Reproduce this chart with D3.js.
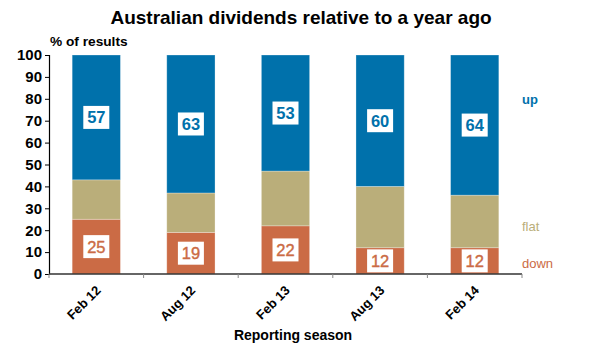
<!DOCTYPE html>
<html>
<head>
<meta charset="utf-8">
<script src="https://cdn.jsdelivr.net/npm/d3@7"></script>
<style>
  html, body { margin: 0; padding: 0; background: #fff; }
  svg { display: block; font-family: Arial, "Liberation Sans", sans-serif; }
</style>
</head>
<body>
<svg id="chart" width="596" height="351"></svg>
<script>
/* Australian dividends relative to a year ago — 100% stacked columns */
const seasons = ["Feb 12", "Aug 12", "Feb 13", "Aug 13", "Feb 14"];
const downVals = [25, 19, 22, 12, 12];
const flatVals = [18, 18, 25, 28, 24];
const upVals   = [57, 63, 53, 60, 64];
const yTicks   = [0, 10, 20, 30, 40, 50, 60, 70, 80, 90, 100];

const COLOR_UP = "#0071AB";
const COLOR_FLAT = "#BAAE7A";
const COLOR_DOWN = "#CB6B45";

const svg = d3.select("#chart");
const margin = { top: 55, right: 74, bottom: 77, left: 49 };
const W = 596, H = 351;
const iw = W - margin.left - margin.right;
const ih = H - margin.top - margin.bottom;

const g = svg.append("g").attr("transform", `translate(${margin.left},${margin.top})`);

const x = d3.scaleBand().domain(seasons).range([0, iw]).paddingInner(0.49).paddingOuter(0.245);
const y = d3.scaleLinear().domain([0, 100]).range([ih, 0]);

const rows = seasons.map((s, i) => ({ season: s, down: downVals[i], flat: flatVals[i], up: upVals[i] }));
const stack = d3.stack().keys(["down", "flat", "up"])(rows);
const colors = { down: COLOR_DOWN, flat: COLOR_FLAT, up: COLOR_UP };

// Bars
stack.forEach(layer => {
    g.selectAll(null).data(layer).join("rect")
        .attr("x", d => x(d.data.season))
        .attr("y", d => y(d[1]))
        .attr("width", x.bandwidth())
        .attr("height", d => y(d[0]) - y(d[1]))
        .attr("fill", colors[layer.key])
        .attr("stroke", "#fff").attr("stroke-opacity", 0.35).attr("stroke-width", 0.8);
});

// Value boxes on up and down segments
["up", "down"].forEach(key => {
    const layer = stack.find(l => l.key === key);
    const lbl = g.selectAll(null).data(layer).join("g")
        .attr("transform", d => `translate(${x(d.data.season) + x.bandwidth() / 2},${(y(d[0]) + y(d[1])) / 2})`);
    lbl.append("rect").attr("x", -13).attr("y", -11.5).attr("width", 26).attr("height", 23).attr("fill", "#fff");
    lbl.append("text").attr("text-anchor", "middle").attr("dy", "0.36em")
        .attr("font-size", 16.5)
        .attr("font-weight", key === "up" ? "bold" : "normal")
        .attr("stroke", key === "up" ? "none" : colors[key]).attr("stroke-width", 0.4)
        .attr("fill", colors[key])
        .text(d => d.data[key]);
});

// Y axis
const yAxis = g.append("g").call(d3.axisLeft(y).tickValues(yTicks).tickSize(4).tickPadding(3));
yAxis.selectAll("text").attr("font-size", 15).attr("font-weight", "bold").attr("fill", "#000");
yAxis.select(".domain").attr("stroke", "#000").attr("stroke-width", 1.2);
yAxis.selectAll(".tick line").attr("stroke", "#000");

// X axis: ticks at category boundaries
const xAxis = g.append("g").attr("transform", `translate(0,${ih})`);
xAxis.append("line").attr("x1", 0).attr("x2", iw).attr("stroke", "#333").attr("stroke-width", 1.5);
const step = x.step();
const bounds = d3.range(seasons.length + 1).map(i => i * step);
xAxis.selectAll("line.tk").data(bounds).join("line").attr("class", "tk")
    .attr("x1", d => d).attr("x2", d => d).attr("y1", 0).attr("y2", 4).attr("stroke", "#888");
xAxis.selectAll("text").data(seasons).join("text")
    .attr("transform", d => `translate(${x(d) + x.bandwidth() / 2 + 2},${14}) rotate(-45)`)
    .attr("text-anchor", "end").attr("dy", "0.35em")
    .attr("font-size", 13).attr("font-weight", "bold").attr("fill", "#000")
    .text(d => d);

// Titles
svg.append("text").attr("x", 301).attr("y", 24).attr("text-anchor", "middle")
    .attr("font-size", 19).attr("font-weight", "bold").attr("fill", "#000")
    .text("Australian dividends relative to a year ago");
svg.append("text").attr("x", 50).attr("y", 46)
    .attr("font-size", 13.7).attr("font-weight", "bold").attr("fill", "#000")
    .text("% of results");
svg.append("text").attr("x", 293).attr("y", 340).attr("text-anchor", "middle")
    .attr("font-size", 14).attr("font-weight", "bold").attr("fill", "#000")
    .text("Reporting season");

// Series labels on the right
const legend = [
    { key: "up", text: "up", val: 79.5 },
    { key: "flat", text: "flat", val: 21.5 },
    { key: "down", text: "down", val: 5 }
];
g.selectAll("text.leg").data(legend).join("text").attr("class", "leg")
    .attr("x", iw).attr("y", d => y(d.val)).attr("dy", "0.35em")
    .attr("font-size", 13).attr("font-weight", d => d.key === "up" ? "bold" : "normal")
    .attr("fill", d => colors[d.key])
    .text(d => d.text);
</script>
</body>
</html>
